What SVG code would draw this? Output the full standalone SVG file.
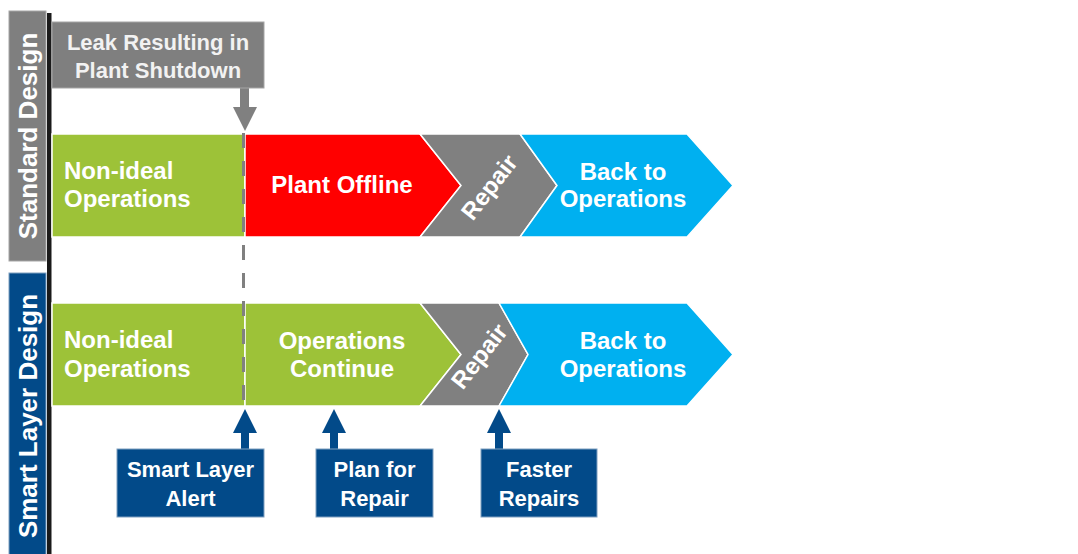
<svg xmlns="http://www.w3.org/2000/svg" width="1078" height="554" viewBox="0 0 1078 554">
<style>
text{font-family:"Liberation Sans",Arial,sans-serif;font-weight:bold;fill:#fff}
.t26{font-size:26px}
.t24{font-size:24px}
.t22{font-size:22px}
.mid{text-anchor:middle}
.seg{stroke:#fff;stroke-width:1.5}
.green{fill:#9DC238}
.red{fill:#FF0000}
.gray{fill:#808080}
.blue{fill:#00B0F0}
.navy{fill:#024A89}
</style>
<rect width="1078" height="554" fill="#fff"/>
<g id="side-labels">
<g id="standard-design">
<rect x="9" y="11" width="37" height="250" fill="#7F7F7F" stroke="#A6A6A6" stroke-width="1"/>
<text class="t26 mid" transform="translate(36.5,136) rotate(-90)">Standard Design</text>
</g>
<g id="smart-layer-design">
<rect x="9" y="273" width="37" height="290" fill="#024A89" stroke="#7F9FC0" stroke-width="1"/>
<text class="t26 mid" transform="translate(36.5,416) rotate(-90)">Smart Layer Design</text>
</g>
<rect x="47" y="13" width="4.5" height="541" fill="#1A1A1A"/>
</g>
<g id="row1">
<g id="r1-nonideal"><polygon class="green seg" points="52,134 245,134 245,237 52,237"/>
<text class="t24" x="64" y="179">Non-ideal</text><text class="t24" x="64" y="207">Operations</text></g>
<g id="r1-offline"><polygon class="red seg" points="245,134 420,134 461,185.5 420,237 245,237"/>
<text class="t24 mid" x="342" y="193">Plant Offline</text></g>
<g id="r1-repair"><polygon class="gray seg" points="420,134 520,134 557,185.5 520,237 420,237 461,185.5"/>
<text class="t24 mid" transform="translate(489,187) rotate(-52)" y="8.5">Repair</text></g>
<g id="r1-back"><polygon class="blue seg" points="520,134 687,134 733,185.5 687,237 520,237 557,185.5"/>
<text class="t24 mid" x="623" y="180">Back to</text><text class="t24 mid" x="623" y="207">Operations</text></g>
</g>
<g id="row2">
<g id="r2-nonideal"><polygon class="green seg" points="52,303 245,303 245,406 52,406"/>
<text class="t24" x="64" y="348">Non-ideal</text><text class="t24" x="64" y="377">Operations</text></g>
<g id="r2-continue"><polygon class="green seg" points="245,303 420,303 461,354.5 420,406 245,406"/>
<text class="t24 mid" x="342" y="349">Operations</text><text class="t24 mid" x="342" y="377">Continue</text></g>
<g id="r2-repair"><polygon class="gray seg" points="420,303 499,303 528,354.5 499,406 420,406 461,354.5"/>
<text class="t24 mid" transform="translate(479,356) rotate(-52)" y="8.5">Repair</text></g>
<g id="r2-back"><polygon class="blue seg" points="499,303 687,303 733,354.5 687,406 499,406 528,354.5"/>
<text class="t24 mid" x="623" y="349">Back to</text><text class="t24 mid" x="623" y="377">Operations</text></g>
</g>
<g id="connectors">
<line x1="243.5" y1="133" x2="243.5" y2="406" stroke="#808080" stroke-width="3" stroke-dasharray="15 13"/>
<polygon fill="#808080" points="240,88 249,88 249,107 257,107 245,131 233,107 240,107"/>
<polygon fill="#024A89" points="241,449 249,449 249,433 257,433 245,409 233,433 241,433"/>
<polygon fill="#024A89" points="330,449 338,449 338,433 346,433 334,409 322,433 330,433"/>
<polygon fill="#024A89" points="495,449 503,449 503,433 511,433 499,409 487,433 495,433"/>
</g>
<g id="callout-leak">
<rect x="52" y="22" width="212" height="66" fill="#7F7F7F" stroke="#A6A6A6" stroke-width="1"/>
<text class="t22 mid" x="158" y="50" style="fill:#F2F2F2">Leak Resulting in</text>
<text class="t22 mid" x="158" y="78" style="fill:#F2F2F2">Plant Shutdown</text>
</g>
<g id="callout-alert">
<rect x="117" y="449" width="147" height="68" fill="#024A89" stroke="#7F9FC0" stroke-width="1"/>
<text class="t22 mid" x="190.5" y="477">Smart Layer</text>
<text class="t22 mid" x="190.5" y="506">Alert</text>
</g>
<g id="callout-plan">
<rect x="316" y="449" width="117" height="68" fill="#024A89" stroke="#7F9FC0" stroke-width="1"/>
<text class="t22 mid" x="374.5" y="477">Plan for</text>
<text class="t22 mid" x="374.5" y="506">Repair</text>
</g>
<g id="callout-faster">
<rect x="481" y="449" width="116" height="68" fill="#024A89" stroke="#7F9FC0" stroke-width="1"/>
<text class="t22 mid" x="539" y="477">Faster</text>
<text class="t22 mid" x="539" y="506">Repairs</text>
</g>
</svg>
